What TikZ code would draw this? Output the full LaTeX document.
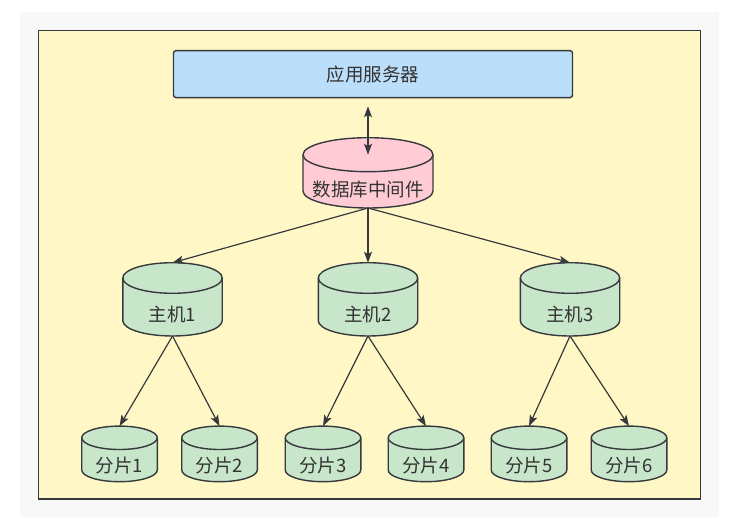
\documentclass[tikz,border=0pt]{standalone}
\usepackage{fontspec}
\setmainfont{Noto Sans CJK SC}
\usetikzlibrary{arrows.meta}

\definecolor{linegray}{HTML}{36393D}
\definecolor{textgray}{HTML}{333333}
\definecolor{pagegray}{HTML}{F8F8F8}
\definecolor{frameyellow}{HTML}{FFF8C6}
\definecolor{srvblue}{HTML}{BBDEFB}
\definecolor{mwpink}{HTML}{FFCCD5}
\definecolor{dbgreen}{HTML}{C8E6C9}

\tikzset{
  cylline/.style={draw=linegray, line width=1.4pt},
  cyltext/.style={inner sep=0pt, text=textgray, font=\fontsize{18.5}{22}\selectfont},
  srvbox/.style={cylline, fill=srvblue, rounded corners=2.5pt, minimum width=399pt, minimum height=47pt, cyltext},
  flow/.style={draw=linegray, line width=1.2pt, -{Stealth[length=11pt,width=8pt,inset=2.5pt]}},
  dblflow/.style={draw=linegray, line width=1.2pt, {Stealth[length=11pt,width=8pt,inset=2.5pt]}-{Stealth[length=11pt,width=8pt,inset=2.5pt]}},
  % #1 half width, #2 body height, #3 y radius, #4 fill, #5 label
  pics/dbcyl/.style n args={5}{code={
    \draw[cylline, fill=#4] (-#1,0) -- (-#1,#2) arc[start angle=180, end angle=0, x radius=#1, y radius=#3]
      -- (#1,0) arc[start angle=0, end angle=-180, x radius=#1, y radius=#3] -- cycle;
    \draw[cylline] (-#1,0) arc[start angle=180, end angle=0, x radius=#1, y radius=#3];
    \coordinate (-top) at (0,-#3);
    \coordinate (-mid) at (0,0);
    \coordinate (-bot) at (0,#2+#3);
    \node[cyltext] (-label) at (0,#3+#2/2) {#5};
  }},
}

\begin{document}
\begin{tikzpicture}[x=1pt, y=-1pt]
  \useasboundingbox (0,0) rectangle (738,524);

  % background and frame
  \fill[pagegray] (20,12) rectangle (719,517);
  \draw[cylline, fill=frameyellow] (38.5,30.5) rectangle (700.7,499);

  % server
  \node[srvbox] (srv) at (373,74.1) {应用服务器};

  % middleware
  \pic (mw) at (368,154.7) {dbcyl={65}{36.3}{17}{mwpink}{数据库中间件}};

  % hosts
  \pic (h1) at (172.5,278) {dbcyl={49.7}{42.7}{15.3}{dbgreen}{主机1}};
  \pic (h2) at (368,278) {dbcyl={49.7}{42.7}{15.3}{dbgreen}{主机2}};
  \pic (h3) at (570,278) {dbcyl={49.7}{42.7}{15.3}{dbgreen}{主机3}};

  % shards
  \pic (s1) at (119.5,437.8) {dbcyl={37.8}{32.2}{11.7}{dbgreen}{分片1}};
  \pic (s2) at (219.5,437.8) {dbcyl={37.8}{32.2}{11.7}{dbgreen}{分片2}};
  \pic (s3) at (323,437.8) {dbcyl={37.8}{32.2}{11.7}{dbgreen}{分片3}};
  \pic (s4) at (426,437.8) {dbcyl={37.8}{32.2}{11.7}{dbgreen}{分片4}};
  \pic (s5) at (529,437.8) {dbcyl={37.8}{32.2}{11.7}{dbgreen}{分片5}};
  \pic (s6) at (629,437.8) {dbcyl={37.8}{32.2}{11.7}{dbgreen}{分片6}};

  % connectors
  \draw[dblflow, shorten >=8pt] (mw-mid) -- (mw-mid |- srv.south);
  \draw[flow] (mw-bot) -- (h1-top);
  \draw[flow] (mw-bot) -- (h2-top);
  \draw[flow] (mw-bot) -- (h3-top);
  \draw[flow] (h1-bot) -- (s1-top);
  \draw[flow] (h1-bot) -- (s2-top);
  \draw[flow] (h2-bot) -- (s3-top);
  \draw[flow] (h2-bot) -- (s4-top);
  \draw[flow] (h3-bot) -- (s5-top);
  \draw[flow] (h3-bot) -- (s6-top);
\end{tikzpicture}
\end{document}
